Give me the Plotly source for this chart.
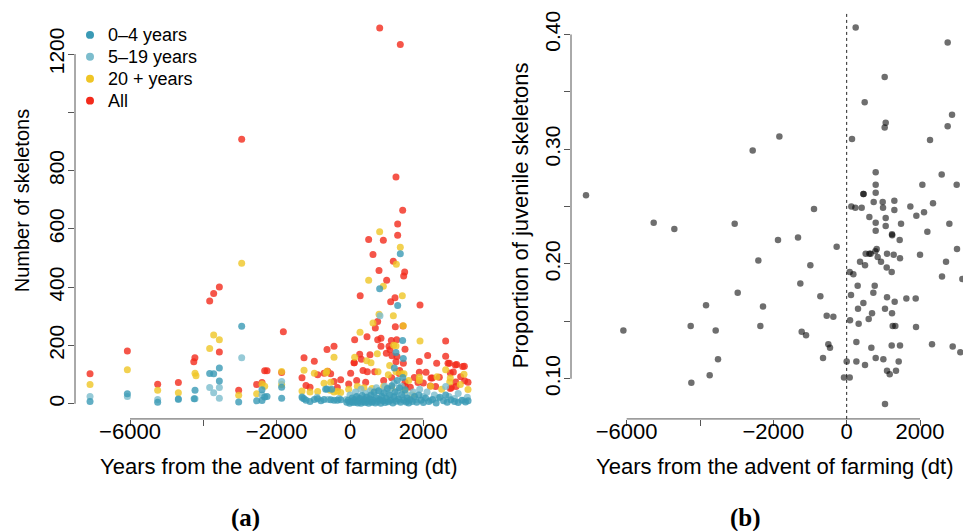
import plotly.graph_objects as go

# ---------------- Panel (a): skeleton counts by age class ----------------
# years from the advent of farming (dt) and number of skeletons
all_x = [-7090, -6072, -5245, -4681, -4230, -4260, -3827, -3718, -3563, -3563, -3036, -2954,
         -2545, -2400, -2327, -2263, -1864, -1818, -1309, -1254, -1200, -1090, -973, -882,
         -709, -627, -608, -527, -436, -436, -345, -254,
         -36, 18, 109, 118, 127, 182, 264, 278, 309, 355, 427, 464, 473, 509, 545, 627,
         673, 691, 754, 755, 791, 810, 845, 845, 909, 918, 991, 1000, 1064, 1091, 1109,
         1127, 1136, 1145, 1181, 1227, 1236, 1254, 1254, 1273, 1282, 1300, 1300, 1345,
         1354, 1372, 1437, 1445, 1455, 1464, 1491, 1500, 1500, 1509, 1645, 1754, 1854,
         1891, 1891, 1909, 2000, 2073, 2118, 2191, 2209, 2245, 2336, 2364, 2436, 2609,
         2609, 2673, 2709, 2736, 2736, 2764, 2818, 2873, 2882, 2891, 2909, 3018, 3073,
         3118, 3127, 3218]
all_y = [103, 181, 67, 73, 158, 144, 353, 378, 401, 178, 46, 908,
         66, 73, 113, 113, 107, 247, 89, 158, 63, 57, 146, 100,
         105, 186, 112, 103, 197, 76, 56, 82,
         68, 105, 141, 141, 220, 80, 170, 371, 153, 114, 74, 230, 110, 564, 168, 512,
         110, 260, 282, 220, 457, 1289, 225, 197, 561, 80, 173, 424, 197, 185, 350,
         217, 89, 165, 489, 364, 264, 778, 144, 220, 162, 617, 578, 104,
         114, 1233, 664, 267, 139, 438, 452, 187, 74, 61, 57, 90, 73,
         145, 108, 339, 71, 108, 166, 61, 88, 88, 59, 139, 91, 215,
         163, 139, 139, 106, 52, 56, 109, 133, 75, 59, 135, 93, 128,
         129, 79, 74]

adult_x = [-7090, -6072, -5245, -4681, -4227, -4200, -3827, -3718, -3563, -3036, -2954,
           -2545, -2400, -2327, -1864, -1864, -1309, -1254, -1090, -973, -882, -709,
           -655, -627, -536, -527, -436, -436, -345, -254,
           -36, 127, 200, 273, 380, 455, 509, 573, 600, 627, 745, 764, 791, 809, 909,
           918, 1045, 1082, 1136, 1182, 1191, 1254, 1255, 1264, 1372, 1410, 1427, 1454,
           1473, 1500, 1600, 1700, 1891, 1891, 1909, 2200, 2373, 2500, 2609, 2720, 2736,
           3009, 3109, 3218]
adult_y = [66, 117, 46, 38, 105, 96, 190, 236, 220, 29, 482,
           34, 68, 60, 111, 66, 44, 115, 40, 105, 42, 70,
           106, 112, 46, 74, 160, 40, 43, 39,
           50, 160, 60, 245, 55, 148, 424, 141, 52, 277, 172, 110, 307, 590, 403,
           60, 100, 131, 55, 302, 201, 198, 110, 479, 537, 103, 371, 268,
           103, 45, 80, 30, 91, 80, 215, 60, 93, 50, 117, 75, 88,
           66, 101, 49]

child_x = [-7090, -6072, -5245, -4681, -4227, -3827, -3718, -3563, -3563, -2954, -2400,
           -1864, -1300, -900, -600, -300,
           -100, 0, 80, 150, 220, 300, 350, 420, 480, 550, 600, 660, 720, 780, 818,
           850, 900, 950, 1000, 1050, 1100, 1150, 1200, 1250, 1300, 1350, 1400, 1450,
           1500, 1550, 1650, 1727, 1800, 1900, 2000, 2100, 2200, 2300, 2400, 2609,
           2700, 2850, 2950, 3100, 3200]
child_y = [25, 25, 15, 15, 17, 56, 38, 56, 19, 158, 30,
           76, 20, 22, 15, 18,
           15, 30, 10, 40, 20, 50, 12, 35, 25, 45, 8, 30, 55, 18, 302,
           40, 20, 60, 10, 35, 50, 15, 70, 28, 45, 12, 60, 22,
           35, 10, 30, 40, 15, 50, 25, 40, 12, 30, 20, 59,
           25, 18, 35, 12, 22]

infant_x = [-7090, -6072, -5245, -4681, -4227, -4250, -3827, -3718, -3563, -3563, -3036,
            -2954, -2545, -2400, -2400, -2327, -2263, -1864, -1864, -1309, -1254, -1200,
            -1090, -973, -882, -790, -709, -664, -627, -527, -500, -436, -345, -254,
            809, 1372, 1300, 1254, 1436, 1454, 1209,
            -90, -50, -10, 30, 60, 90, 120, 150, 180, 210, 240, 270, 300, 330, 360, 390,
            420, 450, 480, 510, 540, 570, 600, 630, 660, 690, 720, 750, 780, 810, 840,
            870, 900, 930, 960, 990, 1020, 1050, 1080, 1110, 1140, 1170, 1200, 1230,
            1260, 1290, 1320, 1350, 1380, 1410, 1440, 1470, 1500, 1530, 1560, 1600,
            1640, 1700, 1760, 1820, 1880, 1940, 2000, 2060, 2150, 2250, 2350, 2450,
            2550, 2609, 2650, 2750, 2850, 2950, 3050, 3150, 3220]
infant_y = [8, 34, 5, 16, 46, 17, 104, 103, 123, 78, 6,
            266, 10, 48, 11, 23, 25, 57, 19, 23, 17, 12,
            8, 15, 17, 10, 15, 50, 51, 14, 50, 12, 12, 14,
            395, 515, 337, 176, 217, 155, 123,
            5, 12, 2, 8, 20, 4, 14, 6, 25, 3, 10, 18, 2, 28, 7, 15,
            4, 22, 9, 2, 16, 30, 5, 12, 40, 3, 20, 8, 45, 14, 2,
            25, 10, 38, 4, 18, 52, 7, 30, 12, 62, 3, 24, 40,
            9, 80, 16, 55, 5, 32, 90, 12, 48, 6, 20, 3,
            14, 8, 25, 5, 30, 12, 4, 20, 8, 15, 3, 22,
            10, 30, 5, 14, 8, 4, 12, 6, 10]

# ---------------- Panel (b): proportion of juvenile skeletons per site ----------------
prop_x = [-7109, -6090, -5263, -4700, -4254, -4236, -3836, -3736, -3572, -3509, -3054,
          -2972, -2563, -2409, -2354, -2282, -1873, -1836, -1327, -1264, -1227, -1109,
          -991, -891, -718, -645, -545, -500, -455, -364, -273, -73, 0, 82, 82, 91, 118,
          127, 145, 182, 236, 245, 264, 264, 300, 309, 327, 364, 409, 455, 460, 455, 491,
          500, 500, 518, 600, 618, 618, 654, 673, 691, 727, 736, 764, 782, 791, 791, 791,
          791, 791, 791, 818, 845, 936, 982, 991, 1000, 1036, 1036, 1045, 1045, 1064,
          1064, 1064, 1091, 1100, 1100, 1100, 1173, 1227, 1227, 1236, 1240, 1236, 1254,
          1282, 1300, 1300, 1309, 1327, 1345, 1418, 1445, 1454, 1454, 1482, 1627, 1736,
          1882, 1891, 1900, 2000, 2064, 2109, 2200, 2273, 2327, 2354, 2591, 2600, 2709,
          2754, 2754, 2800, 2873, 2891, 3000, 3009, 3100, 3155]
prop_y = [0.260, 0.142, 0.236, 0.2305, 0.146, 0.0965, 0.164, 0.103, 0.142, 0.117, 0.235,
          0.175, 0.299, 0.203, 0.146, 0.163, 0.221, 0.311, 0.223, 0.183, 0.141, 0.138,
          0.199, 0.248, 0.172, 0.118, 0.155, 0.130, 0.127, 0.154, 0.215, 0.101, 0.115,
          0.101, 0.193, 0.151, 0.173, 0.250, 0.309, 0.191, 0.249, 0.406, 0.132, 0.115,
          0.181, 0.161, 0.148, 0.202, 0.249, 0.261, 0.261, 0.166, 0.341, 0.199, 0.112,
          0.209, 0.152, 0.209, 0.241, 0.209, 0.127, 0.157, 0.175, 0.254, 0.181, 0.211,
          0.280, 0.269, 0.262, 0.236, 0.229, 0.118, 0.213, 0.206, 0.202, 0.254, 0.249,
          0.117, 0.363, 0.319, 0.161, 0.078, 0.323, 0.240, 0.233, 0.197, 0.209, 0.171,
          0.107, 0.104, 0.193, 0.129, 0.226, 0.225, 0.157, 0.146, 0.208, 0.255, 0.247,
          0.167, 0.146, 0.107, 0.115, 0.221, 0.129, 0.205, 0.235, 0.170, 0.250, 0.170,
          0.145, 0.242, 0.208, 0.269, 0.245, 0.228, 0.308, 0.130, 0.253, 0.278, 0.189,
          0.202, 0.393, 0.320, 0.235, 0.330, 0.128, 0.269, 0.213, 0.123, 0.187]

x_ticks = [-6000, -4000, -2000, 0, 2000]
x_ticktext = ["\u22126000", "", "\u22122000", "0", "2000"]
count_ticks = [0, 200, 400, 600, 800, 1000, 1200]
count_ticktext = ["0", "200", "400", "600", "800", "", "1200"]
prop_ticks = [0.10, 0.15, 0.20, 0.25, 0.30, 0.35, 0.40]
prop_ticktext = ["0.10", "", "0.20", "", "0.30", "", "0.40"]

legend_labels = ["0\u20134 years", "5\u201319 years", "20 + years", "All"]
legend_colors = ["#3A9AB5", "#7CBDCD", "#EFC525", "#F32A1B"]

FONT = "Liberation Sans, Arial, Helvetica, sans-serif"
W, H = 963, 531

def px_x(p):
    return p / W

def px_y(p):
    return 1 - p / H

# drawn back to front: totals first, infants on top
series = [
    ("All", all_x, all_y, "#F32A1B"),
    ("20 + years", adult_x, adult_y, "#EFC525"),
    ("5\u201319 years", child_x, child_y, "#7CBDCD"),
    ("0\u20134 years", infant_x, infant_y, "#3A9AB5"),
]

fig = go.Figure()
for name, xs, ys, col in series:
    fig.add_trace(go.Scatter(
        x=xs, y=ys, mode="markers", name=name, showlegend=False,
        marker=dict(color=col, size=7, opacity=0.8, line=dict(width=0)),
        xaxis="x", yaxis="y",
    ))

fig.add_trace(go.Scatter(
    x=prop_x, y=prop_y, mode="markers", showlegend=False,
    marker=dict(color="rgba(0,0,0,0.57)", size=6.5, line=dict(width=0)),
    xaxis="x2", yaxis="y2",
))

y_dom = [px_y(418.5), px_y(10.7)]
base_ticks = dict(ticks="outside", ticklen=6, tickwidth=1, tickcolor="#555",
                  showgrid=False, zeroline=False, showline=False)
x_tickfont = dict(family=FONT, size=22, color="black")
y_tickfont = dict(family=FONT, size=21, color="black")

fig.update_layout(
    width=W, height=H, autosize=False,
    margin=dict(l=0, r=0, t=0, b=0),
    paper_bgcolor="white", plot_bgcolor="white",
    showlegend=False,
    xaxis=dict(domain=[px_x(75), px_x(482)], range=[-7500, 3600], anchor="y",
               tickvals=x_ticks, ticktext=x_ticktext, tickfont=x_tickfont,
               ticklabelstandoff=-13, **base_ticks),
    yaxis=dict(domain=y_dom, range=[-52, 1342], anchor="x",
               tickvals=count_ticks, ticktext=count_ticktext, tickangle=-90,
               tickfont=y_tickfont, ticklabelstandoff=-4, **base_ticks),
    xaxis2=dict(domain=[px_x(571), 1.0], range=[-7518, 3172], anchor="y2",
                tickvals=x_ticks, ticktext=x_ticktext, tickfont=x_tickfont,
                ticklabelstandoff=-13, **base_ticks),
    yaxis2=dict(domain=y_dom, range=[0.065, 0.419], anchor="x2",
                tickvals=prop_ticks, ticktext=prop_ticktext, tickangle=-90,
                tickfont=y_tickfont, ticklabelstandoff=-4, **base_ticks),
)

# axis lines spanning only the labelled tick range, plus the dt = 0 reference line
axis_col = "#555"
fig.add_shape(type="line", xref="x", yref="y domain", x0=-6000, x1=2000, y0=0, y1=0,
              line=dict(color=axis_col, width=1))
fig.add_shape(type="line", xref="x domain", yref="y", x0=0, x1=0, y0=0, y1=1200,
              line=dict(color=axis_col, width=1))
fig.add_shape(type="line", xref="x2", yref="y2 domain", x0=-6000, x1=2000, y0=0, y1=0,
              line=dict(color=axis_col, width=1))
fig.add_shape(type="line", xref="x2 domain", yref="y2", x0=0, x1=0, y0=0.10, y1=0.40,
              line=dict(color=axis_col, width=1))
fig.add_shape(type="line", xref="x2", yref="y2 domain", x0=0, x1=0, y0=0, y1=1,
              line=dict(color="#222", width=1, dash="dot"))

# compact legend in the top-left corner of panel (a)
for i, (lab, col) in enumerate(zip(legend_labels, legend_colors)):
    cy = 33 + 22 * i
    fig.add_shape(type="circle", xref="paper", yref="paper",
                  x0=px_x(86), x1=px_x(94), y0=px_y(cy + 4), y1=px_y(cy - 4),
                  fillcolor=col, line=dict(width=0))
    fig.add_annotation(text=lab, x=px_x(106), y=px_y(cy), xref="paper", yref="paper",
                       xanchor="left", yanchor="middle", showarrow=False,
                       font=dict(family=FONT, size=18, color="black"))

# axis titles and panel captions
ann = [
    dict(text="Years from the advent of farming (dt)", x=px_x(278), y=px_y(466),
         textangle=0, size=22, family=FONT),
    dict(text="Years from the advent of farming (dt)", x=px_x(774), y=px_y(466),
         textangle=0, size=22, family=FONT),
    dict(text="Number of skeletons", x=px_x(22), y=px_y(200),
         textangle=-90, size=20, family=FONT),
    dict(text="Proportion of juvenile skeletons", x=px_x(520), y=px_y(214),
         textangle=-90, size=22, family=FONT),
    dict(text="<b>(a)</b>", x=px_x(245), y=px_y(518), textangle=0, size=25,
         family="Liberation Serif, Times New Roman, serif"),
    dict(text="<b>(b)</b>", x=px_x(745), y=px_y(518), textangle=0, size=25,
         family="Liberation Serif, Times New Roman, serif"),
]
for a in ann:
    fig.add_annotation(text=a["text"], x=a["x"], y=a["y"], xref="paper", yref="paper",
                       xanchor="center", yanchor="middle", showarrow=False,
                       textangle=a["textangle"],
                       font=dict(family=a["family"], size=a["size"], color="black"))

fig.write_html("out.html")
